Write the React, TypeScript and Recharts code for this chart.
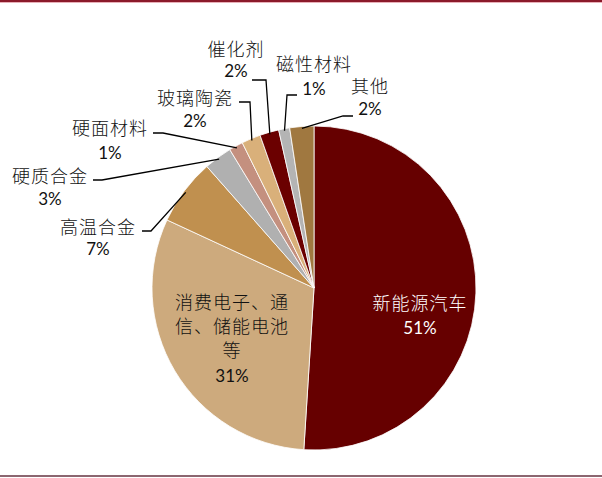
import React from "react";
import { PieChart, Pie, Cell } from "recharts";

const categories = [
  "新能源汽车",
  "消费电子、通信、储能电池等",
  "高温合金",
  "硬质合金",
  "硬面材料",
  "玻璃陶瓷",
  "催化剂",
  "磁性材料",
  "其他",
];
const shares = [51, 30.9, 6.6, 2.8, 1.4, 1.9, 1.9, 1.1, 2.4];
const pctLabels = ["51%", "31%", "7%", "3%", "1%", "2%", "2%", "1%", "2%"];
const colors = [
  "#660000",
  "#CDAA7D",
  "#C0904F",
  "#B0B0B0",
  "#C4907F",
  "#D9B07A",
  "#6B0000",
  "#B4B4B4",
  "#A07840",
];

const data = categories.map((name, i) => ({ name, value: shares[i] }));

type Layout = {
  inside?: boolean;
  lines: string[];
  tx: number;
  ty: number[];
  py: number;
  color?: string;
  elbow?: [number, number];
  end?: [number, number];
};

// label layout, offsets relative to pie center
const LAYOUT: Layout[] = [
  { inside: true, lines: ["新能源汽车"], tx: 106, ty: [14], py: 39, color: "#ffffff" },
  { inside: true, lines: ["消费电子、通", "信、储能电池", "等"], tx: -82, ty: [13, 37, 61], py: 87 },
  { lines: ["高温合金"], tx: -216, ty: [-62], py: -40, elbow: [-163, -57], end: [-172, -57] },
  { lines: ["硬质合金"], tx: -264, ty: [-113], py: -90, elbow: [-212, -108], end: [-221, -108] },
  { lines: ["硬面材料"], tx: -204, ty: [-161], py: -136, elbow: [-151, -155], end: [-161, -155] },
  { lines: ["玻璃陶瓷"], tx: -119, ty: [-191], py: -168, elbow: [-64, -186], end: [-75, -186] },
  { lines: ["催化剂"], tx: -78, ty: [-240], py: -218, elbow: [-48, -208], end: [-62, -208] },
  { lines: ["磁性材料"], tx: 0, ty: [-225], py: -200, elbow: [-27, -193], end: [-17, -193] },
  { lines: ["其他"], tx: 56, ty: [-203], py: -180, elbow: [29, -172], end: [39, -172] },
];

const CJK = "'Noto Sans CJK SC', sans-serif";
const NUM = "Lato, 'Noto Sans', sans-serif";

const renderLabel = (props: any) => {
  const { cx, cy, midAngle, outerRadius, index } = props;
  const L = LAYOUT[index];
  if (!L) return null;
  const color = L.color || "#111111";
  const rad = (Math.PI / 180) * midAngle;
  const ax = cx + (outerRadius - 2) * Math.cos(rad);
  const ay = cy - (outerRadius - 2) * Math.sin(rad);
  return (
    <g key={`lbl-${index}`}>
      {!L.inside && L.elbow && L.end && (
        <polyline
          points={`${ax},${ay} ${cx + L.elbow[0]},${cy + L.elbow[1]} ${cx + L.end[0]},${cy + L.end[1]}`}
          fill="none"
          stroke="#000"
          strokeWidth={1.3}
        />
      )}
      {L.lines.map((ln, k) => (
        <text
          key={k}
          x={cx + L.tx}
          y={cy + L.ty[k]}
          textAnchor="middle"
          dominantBaseline="central"
          fontFamily={CJK}
          fontSize={18}
          fontWeight={300}
          letterSpacing={1}
          fill={color}
        >
          {ln}
        </text>
      ))}
      <text
        x={cx + L.tx}
        y={cy + L.py}
        textAnchor="middle"
        dominantBaseline="central"
        fontFamily={NUM}
        fontSize={17}
        fill={color}
      >
        {pctLabels[index]}
      </text>
    </g>
  );
};

export default function App() {
  return (
    <div
      style={{
        position: "absolute",
        left: 0,
        top: 0,
        width: 602,
        height: 478,
        background: "#fff",
      }}
    >
      <div style={{ position: "absolute", left: 0, top: 0, width: 602, height: 2, background: "#8B1A2A" }} />
      <div style={{ position: "absolute", left: 0, top: 2, width: 602, height: 1, background: "#E8B0B8" }} />
      <div style={{ position: "absolute", left: 0, top: 475, width: 602, height: 2, background: "#8C6670" }} />
      <PieChart
        width={602}
        height={478}
        margin={{ top: 0, right: 0, bottom: 0, left: 0 }}
        style={{ position: "absolute", left: 0, top: 0 }}
      >
        <Pie
          data={data}
          dataKey="value"
          nameKey="name"
          cx={314}
          cy={288}
          outerRadius={162}
          startAngle={90}
          endAngle={-270}
          stroke="#ffffff"
          strokeWidth={0.8}
          isAnimationActive={false}
          labelLine={false}
          label={renderLabel}
        >
          {data.map((d, i) => (
            <Cell key={d.name} fill={colors[i]} />
          ))}
        </Pie>
      </PieChart>
    </div>
  );
}
